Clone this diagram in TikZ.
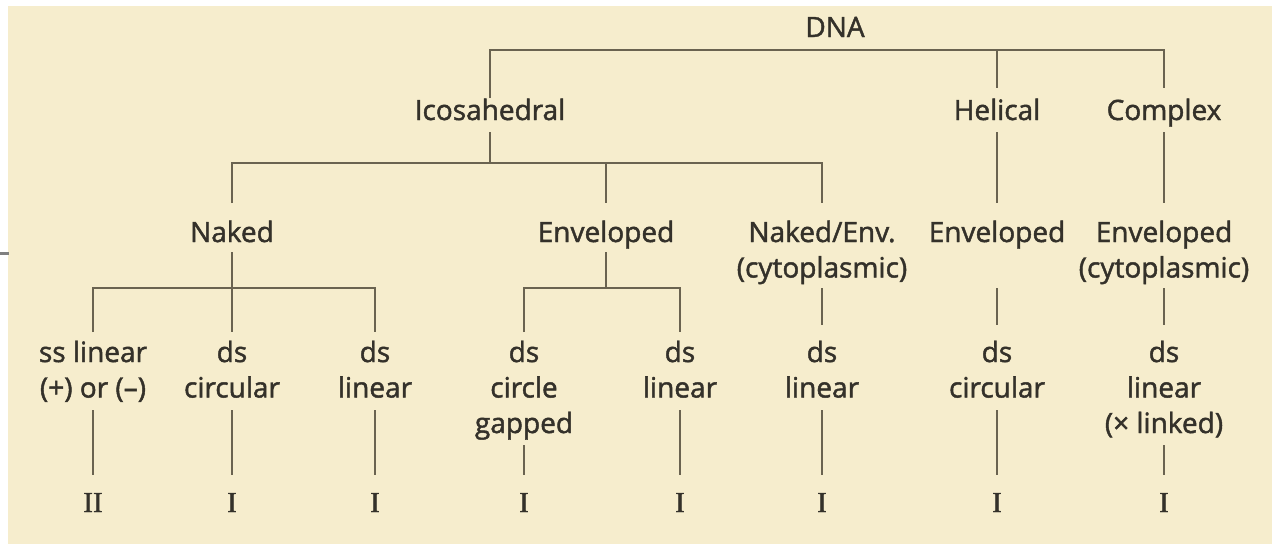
\documentclass[tikz,border=0pt]{standalone}
\usepackage{fontspec}
\newfontfamily\lblfont{Open Sans}[FakeBold=1.6]
\newfontfamily\numfont{Liberation Serif}[FakeBold=1.2]
\definecolor{paper}{HTML}{F6EDCD}
\definecolor{ink}{HTML}{34312A}
\definecolor{rule}{HTML}{6A6350}

\begin{document}
\begin{tikzpicture}[x=1pt,y=-1pt,
  lbl/.style={font=\lblfont\fontsize{28}{35.5}\selectfont, text=ink, align=center, inner sep=0pt, anchor=base},
  num/.style={font=\numfont\fontsize{29}{29}\selectfont, text=ink, inner sep=0pt, anchor=base},
  link/.style={draw=rule, line width=2.4pt}]
\useasboundingbox (0,0) rectangle (1272,544);
% page and printed panel
\fill[white] (0,0) rectangle (1272,544);
\fill[paper] (8,6) rectangle (1272,544);
\draw[gray, line width=3pt] (0,253) -- (9,253);

% genome type (a multi-line node sits on the baseline of its last line)
\node[lbl] (dna) at (835,37) {DNA};

% capsid symmetry
\node[lbl] (ico) at (490,120) {Icosahedral};
\node[lbl] (hel) at (997,120) {Helical};
\node[lbl] (cpx) at (1164,120) {Complex};

% envelope
\node[lbl] (nak)  at (232,242)  {Naked};
\node[lbl] (env)  at (606,242)  {Enveloped};
\node[lbl] (ne)   at (822,277.5)  {Naked/Env.\\(cytoplasmic)};
\node[lbl] (henv) at (997,242)  {Enveloped};
\node[lbl] (cenv) at (1164,277.5) {Enveloped\\(cytoplasmic)};

% genome structure
\node[lbl] (g1) at (93,397.5)   {ss linear\\(+) or (–)};
\node[lbl] (g2) at (232,397.5)  {ds\\circular};
\node[lbl] (g3) at (375,397.5)  {ds\\linear};
\node[lbl] (g4) at (524,433)    {ds\\circle\\gapped};
\node[lbl] (g5) at (680,397.5)  {ds\\linear};
\node[lbl] (g6) at (822,397.5)  {ds\\linear};
\node[lbl] (g7) at (997,397.5)  {ds\\circular};
\node[lbl] (g8) at (1164,433)   {ds\\linear\\(× linked)};

% Baltimore class
\node[num] (c1) at (93,512)   {II};
\node[num] (c2) at (232,512)  {I};
\node[num] (c3) at (375,512)  {I};
\node[num] (c4) at (524,512)  {I};
\node[num] (c5) at (680,512)  {I};
\node[num] (c6) at (822,512)  {I};
\node[num] (c7) at (997,512)  {I};
\node[num] (c8) at (1164,512) {I};

% DNA -> symmetry
\draw[link] (ico |- 0,98) |- (cpx |- 0,50) -- (cpx |- 0,88);
\draw[link] (hel |- 0,50) -- (hel |- 0,88);

% symmetry -> envelope
\draw[link] (ico |- 0,132) -- (ico |- 0,163);
\draw[link] (nak |- 0,203) |- (ne |- 0,163) -- (ne |- 0,203);
\draw[link] (env |- 0,163) -- (env |- 0,203);
\draw[link] (hel |- 0,132) -- (hel |- 0,203);
\draw[link] (cpx |- 0,132) -- (cpx |- 0,203);

% envelope -> genome
\draw[link] (nak |- 0,252) -- (nak |- 0,332);
\draw[link] (g1 |- 0,332) |- (g3 |- 0,288) -- (g3 |- 0,332);
\draw[link] (env |- 0,252) -- (env |- 0,288);
\draw[link] (g4 |- 0,332) |- (g5 |- 0,288) -- (g5 |- 0,332);
\draw[link] (ne |- 0,288) -- (ne |- 0,325);
\draw[link] (henv |- 0,288) -- (henv |- 0,325);
\draw[link] (cenv |- 0,288) -- (cenv |- 0,325);

% genome -> class
\foreach \g/\c/\t in {g1/c1/410, g2/c2/410, g3/c3/410, g4/c4/445, g5/c5/410, g6/c6/410, g7/c7/410, g8/c8/445}
  \draw[link] (\g |- 0,\t) -- (\c |- 0,475);
\end{tikzpicture}
\end{document}
